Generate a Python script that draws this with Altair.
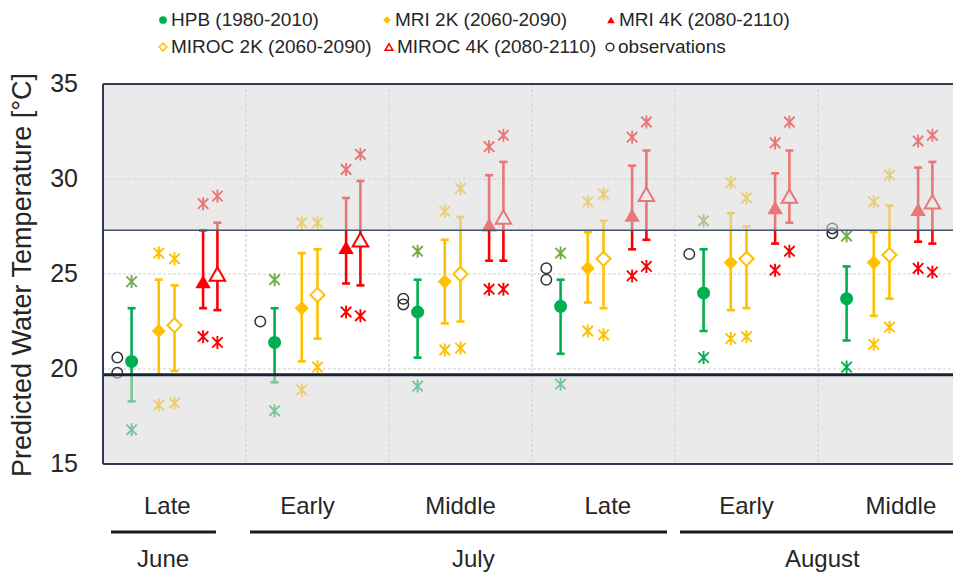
import altair as alt
import pandas as pd

# ---------------------------------------------------------------- data
periods = ["Late", "Early", "Middle", "Late", "Early", "Middle"]
months = ["June", "July", "August"]

series_names = [
    "HPB (1980-2010)",
    "MRI 2K (2060-2090)",
    "MIROC 2K (2060-2090)",
    "MRI 4K (2080-2110)",
    "MIROC 4K (2080-2110)",
]

# predicted mean, range bar (low/high) and extreme values (asterisks)
hpb_mean = [20.4, 21.4, 23.0, 23.3, 24.0, 23.7]
hpb_low = [18.3, 19.3, 20.6, 20.8, 22.0, 21.5]
hpb_high = [23.2, 23.2, 24.7, 24.7, 26.3, 25.4]
hpb_max = [24.6, 24.7, 26.2, 26.1, 27.8, 27.0]
hpb_min = [16.8, 17.8, 19.1, 19.2, 20.6, 20.1]

mri2k_mean = [22.0, 23.2, 24.6, 25.3, 25.6, 25.6]
mri2k_low = [19.7, 20.4, 22.4, 23.5, 23.1, 22.8]
mri2k_high = [24.7, 26.1, 26.8, 27.2, 28.2, 27.2]
mri2k_max = [26.1, 27.7, 28.3, 28.8, 29.8, 28.8]
mri2k_min = [18.1, 18.9, 21.0, 22.0, 21.6, 21.3]

miroc2k_mean = [22.3, 23.9, 25.0, 25.8, 25.8, 26.0]
miroc2k_low = [19.9, 21.6, 22.5, 23.2, 23.2, 23.7]
miroc2k_high = [24.4, 26.3, 28.0, 27.8, 27.5, 28.6]
miroc2k_max = [25.8, 27.7, 29.5, 29.2, 29.0, 30.2]
miroc2k_min = [18.2, 20.1, 21.1, 21.8, 21.7, 22.2]

mri4k_mean = [24.6, 26.4, 27.6, 28.1, 28.5, 28.4]
mri4k_low = [23.2, 24.5, 25.7, 26.3, 26.6, 26.7]
mri4k_high = [27.3, 29.0, 30.2, 30.7, 30.3, 30.6]
mri4k_max = [28.7, 30.5, 31.7, 32.2, 31.9, 32.0]
mri4k_min = [21.7, 23.0, 24.2, 24.9, 25.2, 25.3]

miroc4k_mean = [25.0, 26.8, 28.0, 29.2, 29.1, 28.8]
miroc4k_low = [23.1, 24.4, 25.7, 26.8, 27.7, 26.6]
miroc4k_high = [27.7, 29.9, 30.9, 31.5, 31.5, 30.9]
miroc4k_max = [29.1, 31.3, 32.3, 33.0, 33.0, 32.3]
miroc4k_min = [21.4, 22.8, 24.2, 25.4, 26.2, 25.1]

# observations (period index, temperature)
obs_period = [0, 0, 1, 2, 2, 3, 3, 4, 5, 5]
obs_temp = [20.6, 19.8, 22.5, 23.7, 23.4, 25.3, 24.7, 26.05, 27.4, 27.15]

# suitable temperature range (unshaded band)
band_low = 19.7
band_high = 27.3

# y ticks
y_ticks = [15, 20, 25, 30, 35]

# ---------------------------------------------------------------- layout / style
FONT = "Liberation Sans"
TEXT = "#262626"
W, H = 850, 380
CAT_PX = 143
XMAX = W / CAT_PX
YMIN, YMAX = 15, 35

GREEN, GOLD, RED = "#00B050", "#FFC000", "#FF0000"
style = {
    "HPB (1980-2010)": dict(color=GREEN, star_hi="#70AD47", shape="circle", filled=True, off=0.20, size=170),
    "MRI 2K (2060-2090)": dict(color=GOLD, star_hi=GOLD, shape="diamond", filled=True, off=0.39, size=200),
    "MIROC 2K (2060-2090)": dict(color=GOLD, star_hi=GOLD, shape="diamond", filled=False, off=0.50, size=200),
    "MRI 4K (2080-2110)": dict(color=RED, star_hi=RED, shape="triangle-up", filled=True, off=0.70, size=240),
    "MIROC 4K (2080-2110)": dict(color=RED, star_hi=RED, shape="triangle-up", filled=False, off=0.80, size=240),
}
OBS_OFF = 0.10
ASTERISK = "M0,-1L0,1M-0.8,-0.8L0.8,0.8M-0.8,0.8L0.8,-0.8"

values = {
    "HPB (1980-2010)": (hpb_mean, hpb_low, hpb_high, hpb_max, hpb_min),
    "MRI 2K (2060-2090)": (mri2k_mean, mri2k_low, mri2k_high, mri2k_max, mri2k_min),
    "MIROC 2K (2060-2090)": (miroc2k_mean, miroc2k_low, miroc2k_high, miroc2k_max, miroc2k_min),
    "MRI 4K (2080-2110)": (mri4k_mean, mri4k_low, mri4k_high, mri4k_max, mri4k_min),
    "MIROC 4K (2080-2110)": (miroc4k_mean, miroc4k_low, miroc4k_high, miroc4k_max, miroc4k_min),
}

xs = alt.Scale(domain=[0, XMAX], nice=False, zero=False)
ys = alt.Scale(domain=[YMIN, YMAX], nice=False, zero=False)

layers = []

# horizontal gridlines and tick labels
tick_df = pd.DataFrame({"t": y_ticks})
layers.append(
    alt.Chart(tick_df).mark_rule(color="#CFCFCF", strokeDash=[3, 2], strokeWidth=1.2).encode(
        y=alt.Y("t:Q", scale=ys, axis=None), x=alt.value(0), x2=alt.value(W))
)
layers.append(
    alt.Chart(tick_df).mark_text(font=FONT, fontSize=25, color=TEXT, align="right",
                                 baseline="middle").encode(
        y=alt.Y("t:Q", scale=ys, axis=None), x=alt.value(-25), text="t:Q")
)

# vertical separators between periods
sep_df = pd.DataFrame({"b": list(range(1, len(periods)))})
layers.append(
    alt.Chart(sep_df).mark_rule(color="#CFCFCF", strokeDash=[3, 2], strokeWidth=1.2).encode(
        x=alt.X("b:Q", scale=xs, axis=None), y=alt.value(0), y2=alt.value(H))
)

for name in series_names:
    st = style[name]
    mean, lo, hi, mx, mn = values[name]
    df = pd.DataFrame({
        "x": [i + st["off"] for i in range(len(periods))],
        "mean": mean, "lo": lo, "hi": hi, "mx": mx, "mn": mn,
    })
    base = alt.Chart(df)
    X = alt.X("x:Q", scale=xs, axis=None)
    # range bar
    layers.append(base.mark_rule(color=st["color"], strokeWidth=2.6).encode(
        x=X, y=alt.Y("lo:Q", scale=ys, axis=None), y2="hi:Q"))
    for f in ["lo", "hi"]:
        layers.append(base.mark_point(shape="stroke", size=64, color=st["color"],
                                      strokeWidth=2.6, opacity=1).encode(
            x=X, y=alt.Y(f"{f}:Q", scale=ys, axis=None)))
    # extremes
    layers.append(base.mark_point(shape=ASTERISK, size=170, filled=False, color=st["star_hi"],
                                  strokeWidth=1.9, opacity=1).encode(
        x=X, y=alt.Y("mx:Q", scale=ys, axis=None)))
    layers.append(base.mark_point(shape=ASTERISK, size=170, filled=False, color=st["color"],
                                  strokeWidth=1.9, opacity=1).encode(
        x=X, y=alt.Y("mn:Q", scale=ys, axis=None)))
    # central marker
    if st["filled"]:
        mk = base.mark_point(shape=st["shape"], size=st["size"], filled=True,
                             color=st["color"], opacity=1)
    else:
        mk = base.mark_point(shape=st["shape"], size=st["size"], filled=True, fill="white",
                             stroke=st["color"], strokeWidth=2, opacity=1)
    layers.append(mk.encode(x=X, y=alt.Y("mean:Q", scale=ys, axis=None)))

# observations
obs_df = pd.DataFrame({"x": [p + OBS_OFF for p in obs_period], "t": obs_temp})
layers.append(
    alt.Chart(obs_df).mark_point(shape="circle", size=110, filled=False, color="#333333",
                                 strokeWidth=1.5, opacity=1).encode(
        x=alt.X("x:Q", scale=xs, axis=None), y=alt.Y("t:Q", scale=ys, axis=None))
)

# shaded regions outside the suitable range
shade_df = pd.DataFrame({"x0": [0, 0], "x1": [XMAX, XMAX],
                         "y0": [band_high, YMIN], "y1": [YMAX, band_low]})
layers.append(
    alt.Chart(shade_df).mark_rect(color="#D9D9D9", opacity=0.55).encode(
        x=alt.X("x0:Q", scale=xs, axis=None), x2="x1:Q",
        y=alt.Y("y0:Q", scale=ys, axis=None), y2="y1:Q")
)

# range boundaries
layers.append(
    alt.Chart(pd.DataFrame({"t": [band_high]})).mark_rule(color="#44546A", strokeWidth=1.6).encode(
        y=alt.Y("t:Q", scale=ys, axis=None), x=alt.value(0), x2=alt.value(W))
)
layers.append(
    alt.Chart(pd.DataFrame({"t": [band_low]})).mark_rule(color="#1B2433", strokeWidth=3).encode(
        y=alt.Y("t:Q", scale=ys, axis=None), x=alt.value(0), x2=alt.value(W))
)

# plot frame (left, top, bottom)
layers.append(
    alt.Chart(pd.DataFrame({"t": [YMIN, YMAX]})).mark_rule(color="#2F3B52", strokeWidth=2).encode(
        y=alt.Y("t:Q", scale=ys, axis=None), x=alt.value(0), x2=alt.value(W))
)
layers.append(
    alt.Chart(pd.DataFrame({"t": [YMIN]})).mark_rule(color="#2F3B52", strokeWidth=2).encode(
        x=alt.value(0), y=alt.value(0), y2=alt.value(H))
)

# y-axis title
layers.append(
    alt.Chart(pd.DataFrame({"s": ["Predicted Water Temperature [°C]"]})).mark_text(
        font=FONT, fontSize=27, color=TEXT, angle=270, align="center", baseline="middle").encode(
        text="s:N", x=alt.value(-80), y=alt.value(191))
)

# period labels, month lines and month labels under the plot
period_pos = [0.45, 1.43, 2.50, 3.53, 4.50, 5.58]
layers.append(
    alt.Chart(pd.DataFrame({"p": periods, "x": period_pos})).mark_text(
        font=FONT, fontSize=24, color=TEXT, baseline="middle").encode(
        text="p:N", x=alt.X("x:Q", scale=xs, axis=None), y=alt.value(423))
)
month_df = pd.DataFrame({
    "m": months,
    "x": [0.42, 2.59, 5.03],
    "a": [0.056, 1.028, 4.035],
    "b": [0.79, 3.944, XMAX],
})
layers.append(
    alt.Chart(month_df).mark_rule(color="#1A1A1A", strokeWidth=3).encode(
        x=alt.X("a:Q", scale=xs, axis=None), x2="b:Q", y=alt.value(448))
)
layers.append(
    alt.Chart(month_df).mark_text(font=FONT, fontSize=24, color=TEXT, baseline="middle").encode(
        text="m:N", x=alt.X("x:Q", scale=xs, axis=None), y=alt.value(476))
)

# legend
legend_items = [
    ("HPB (1980-2010)", 60, -64, "circle", GREEN, True),
    ("MRI 2K (2060-2090)", 284, -64, "diamond", GOLD, True),
    ("MRI 4K (2080-2110)", 508, -64, "triangle-up", RED, True),
    ("MIROC 2K (2060-2090)", 60, -37, "diamond", GOLD, False),
    ("MIROC 4K (2080-2110)", 286, -37, "triangle-up", RED, False),
    ("observations", 507, -37, "circle", "#333333", False),
]
one = pd.DataFrame({"k": [0]})
for label, lx, ly, shp, col, fil in legend_items:
    if fil:
        m = alt.Chart(one).mark_point(shape=shp, size=60, filled=True, color=col, opacity=1)
    else:
        m = alt.Chart(one).mark_point(shape=shp, size=60, filled=True, fill="white",
                                      stroke=col, strokeWidth=1.5, opacity=1)
    layers.append(m.encode(x=alt.value(lx), y=alt.value(ly)))
    layers.append(
        alt.Chart(pd.DataFrame({"s": [label]})).mark_text(
            font=FONT, fontSize=19, color=TEXT, align="left", baseline="middle").encode(
            text="s:N", x=alt.value(lx + 8), y=alt.value(ly))
    )

chart = alt.layer(*layers).properties(
    width=W, height=H, autosize="none",
    padding={"left": 103, "top": 84, "right": 0, "bottom": 114},
).configure_view(stroke=None).configure(background="white")

chart.save("out.html", embed_options={"renderer": "svg", "actions": False})
